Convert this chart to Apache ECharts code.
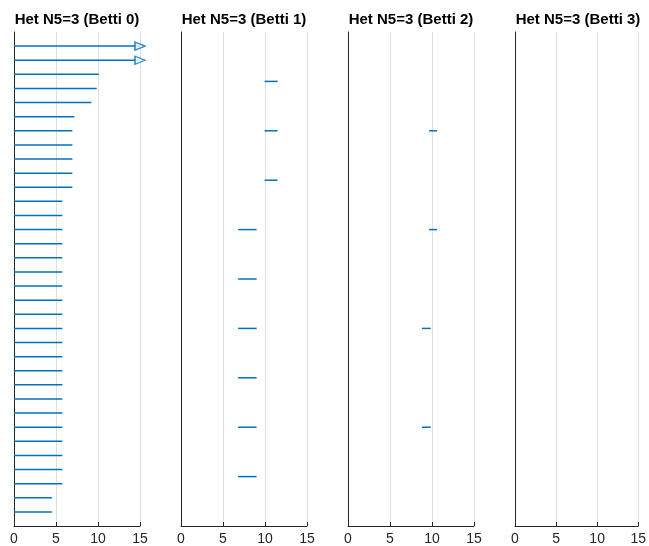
<!DOCTYPE html>
<html>
<head>
<meta charset="utf-8">
<script src="https://cdn.jsdelivr.net/npm/echarts@6/dist/echarts.min.js"></script>
<style>
html,body{margin:0;padding:0;background:#fff;}
#chart{width:649px;height:546px;}
</style>
</head>
<body>
<div id="chart"></div>
<script>
// ---- data (bars listed top to bottom; Infinity = persists past the axis) ----
const panelTitles = ['Het N5=3 (Betti 0)', 'Het N5=3 (Betti 1)', 'Het N5=3 (Betti 2)', 'Het N5=3 (Betti 3)'];
const xTicks = [0, 5, 10, 15];

const betti0Birth = [0,0,0,0,0,0,0,0,0,0,0,0,0,0,0,0,0,0,0,0,0,0,0,0,0,0,0,0,0,0,0,0,0,0];
const betti0Death = [Infinity, Infinity, 10.1, 9.85, 9.2, 7.2,
  6.95, 6.95, 6.95, 6.95, 6.95,
  5.75, 5.75, 5.75, 5.75, 5.75, 5.75, 5.75, 5.75, 5.75, 5.75, 5.75,
  5.75, 5.75, 5.75, 5.75, 5.75, 5.75, 5.75, 5.75, 5.75, 5.75,
  4.5, 4.5];

const betti1Birth = [9.95, 9.95, 9.95, 6.8, 6.8, 6.8, 6.8, 6.8, 6.8];
const betti1Death = [11.5, 11.5, 11.5, 9.0, 9.0, 9.0, 9.0, 9.0, 9.0];

const betti2Birth = [9.65, 9.65, 8.8, 8.8];
const betti2Death = [10.6, 10.6, 9.85, 9.85];

const betti3Birth = [];
const betti3Death = [];

// ---- layout ----
const births = [betti0Birth, betti1Birth, betti2Birth, betti3Birth];
const deaths = [betti0Death, betti1Death, betti2Death, betti3Death];
const xMin = 0, xMax = 15, xInterval = 5;
const gridLeft0 = 14, gridStep = 167, gridWidth = 126, gridTop = 32, gridHeight = 496;
const barColor = '#0072BD';
const axisColor = '#262626';

const grids = [], xAxes = [], yAxes = [], series = [], graphics = [];

births.forEach((b, i) => {
  const d = deaths[i];
  const n = b.length;
  grids.push({left: gridLeft0 + gridStep * i, top: gridTop, width: gridWidth, height: gridHeight, containLabel: false});
  xAxes.push({
    gridIndex: i, type: 'value', min: xMin, max: xMax, interval: xInterval, position: 'bottom',
    axisLine: {show: true, onZero: false, lineStyle: {color: axisColor, width: 1}},
    axisTick: {show: true, inside: true, length: 4, lineStyle: {color: axisColor}},
    axisLabel: {show: true, color: axisColor, fontSize: 14, fontFamily: 'Liberation Sans, Arial, Helvetica, sans-serif', margin: 6,
      formatter: v => xTicks.includes(v) ? String(v) : ''},
    splitLine: {show: true, lineStyle: {color: '#e0e0e0', width: 1}}
  });
  yAxes.push({
    gridIndex: i, type: 'value', min: 0, max: n + 1, inverse: true, position: 'left',
    axisLine: {show: true, onZero: false, lineStyle: {color: axisColor, width: 1}},
    axisTick: {show: false}, axisLabel: {show: false}, splitLine: {show: false}
  });
  const barData = b.map((s, k) => [s, isFinite(d[k]) ? d[k] : xMax, k + 1]);
  series.push({
    type: 'custom', xAxisIndex: i, yAxisIndex: i, data: barData, silent: true,
    renderItem: (params, api) => {
      const p1 = api.coord([api.value(0), api.value(2)]);
      const p2 = api.coord([api.value(1), api.value(2)]);
      return {type: 'line', shape: {x1: p1[0], y1: p1[1], x2: p2[0], y2: p2[1]},
        style: {stroke: barColor, lineWidth: 1.5}};
    }
  });
  const arrowData = [];
  d.forEach((v, k) => { if (!isFinite(v)) arrowData.push([xMax, k + 1]); });
  if (arrowData.length) {
    series.push({
      type: 'scatter', xAxisIndex: i, yAxisIndex: i, data: arrowData, silent: true,
      symbol: 'triangle', symbolSize: [8, 10], symbolRotate: -90,
      itemStyle: {color: '#ffffff', borderColor: barColor, borderWidth: 1.5}, z: 5
    });
  }
  graphics.push({
    type: 'text', x: gridLeft0 + gridStep * i + gridWidth / 2, y: 20,
    style: {text: panelTitles[i], fill: '#000', font: 'bold 15px "Liberation Sans", Arial, Helvetica, sans-serif',
      align: 'center', verticalAlign: 'middle'}
  });
});

const chart = echarts.init(document.getElementById('chart'), null, {renderer: 'canvas'});
chart.setOption({
  animation: false,
  backgroundColor: '#ffffff',
  grid: grids, xAxis: xAxes, yAxis: yAxes, series: series, graphic: graphics
});
</script>
</body>
</html>
